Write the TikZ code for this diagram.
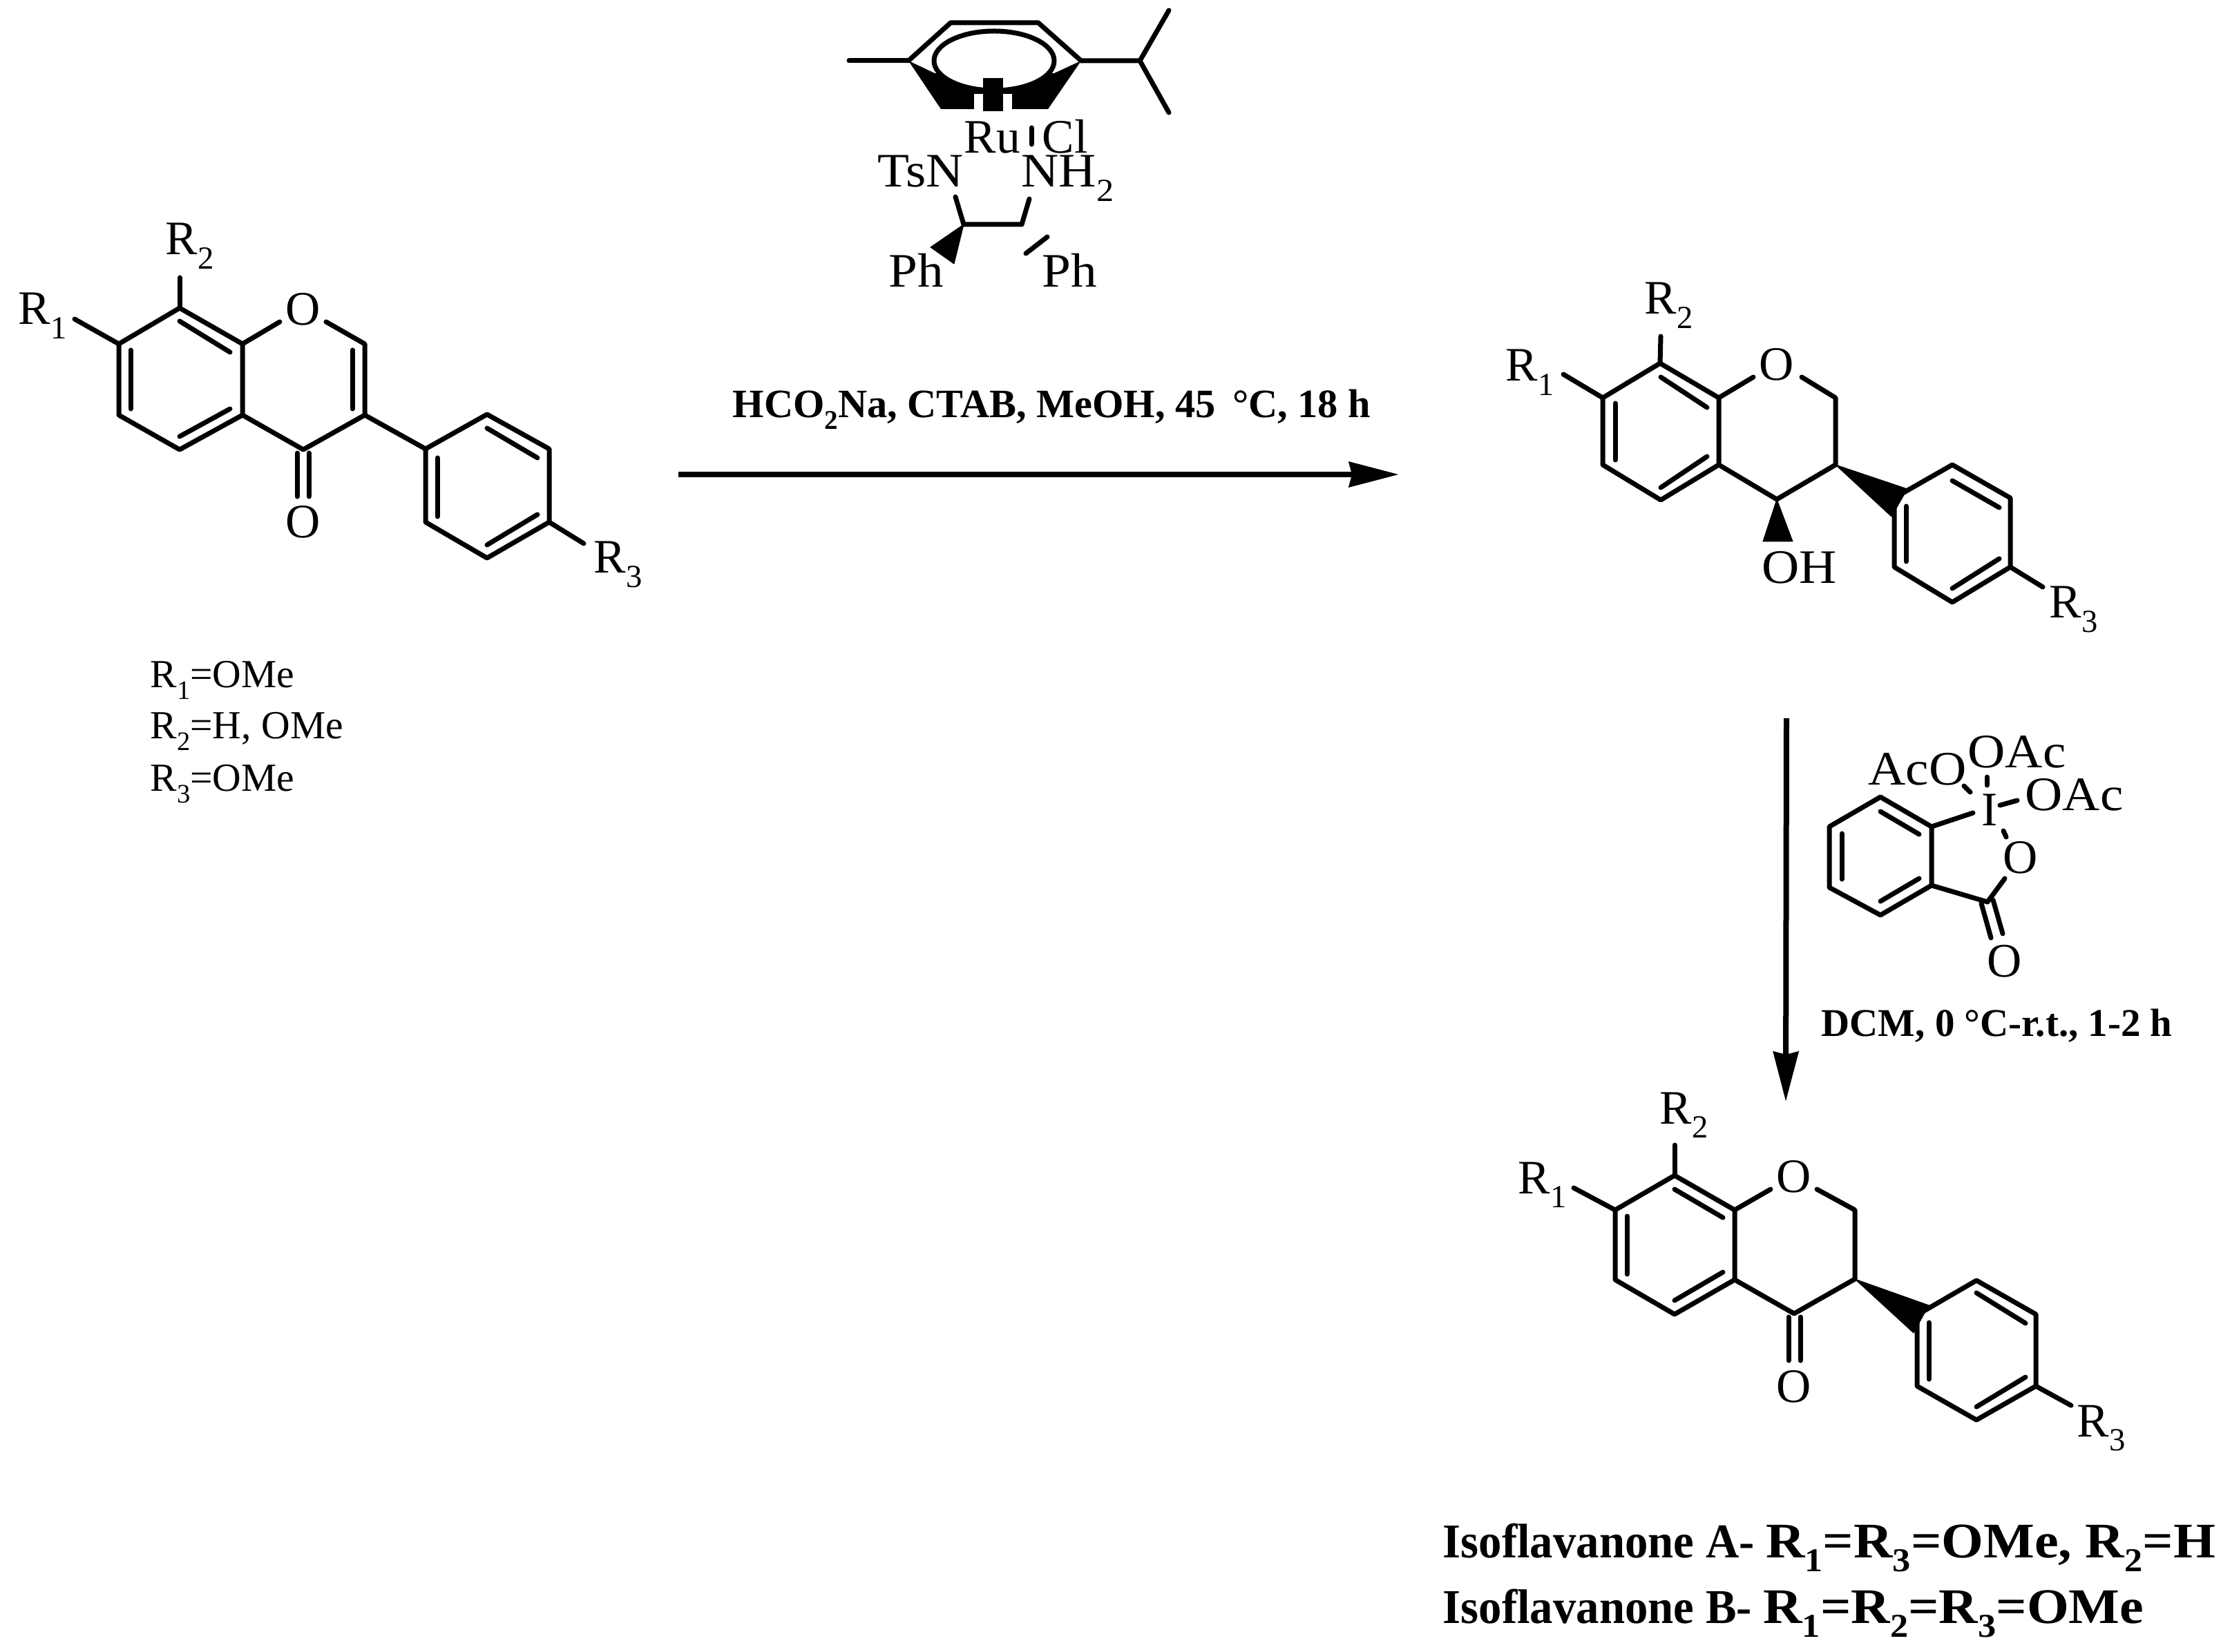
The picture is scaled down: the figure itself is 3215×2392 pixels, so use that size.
\documentclass[tikz,border=0pt]{standalone}
\usepackage{fontspec}
\setmainfont{Liberation Serif}
\newfontfamily\wideface[FakeStretch=1.08]{Liberation Serif}
\newfontfamily\headface[FakeStretch=0.95]{Liberation Serif}
\newfontfamily\formface[FakeStretch=1.085]{Liberation Serif}
\usetikzlibrary{arrows.meta}
\newcommand{\lowsub}[1]{\raisebox{-0.29em}{\scalebox{0.67}{#1}}}
\tikzset{
	bond/.style={line width=0.7mm, line cap=round, line join=round},
	wedge/.style={fill=black, draw=black, line width=0.1mm, line join=round},
	atom/.style={font=\fontsize{19.8pt}{22pt}\selectfont, inner sep=0pt, anchor=base west},
	atomw/.style={font=\wideface\fontsize{19.8pt}{22pt}\selectfont, inner sep=0pt, anchor=base west},
	atomc/.style={font=\fontsize{19.8pt}{22pt}\selectfont, inner sep=0pt, anchor=center},
	note/.style={font=\fontsize{16.4pt}{18pt}\selectfont, inner sep=0pt, anchor=base west},
	cond/.style={font=\bfseries, inner sep=0pt, anchor=base west},
	title/.style={font=\bfseries, inner sep=0pt, anchor=base west},
	reaction/.style={line width=0.8mm, -{Stealth[length=7.2mm, width=3.6mm, inset=0.4mm]}}
}
\begin{document}
\begin{tikzpicture}[x=0.1mm, y=-0.1mm]
	\useasboundingbox (0, 0) rectangle (3215, 2392);
	
	%%%%% isoflavone %%%%%
	\coordinate (a8) at (260, 446); \coordinate (a7) at (172, 498); \coordinate (a6) at (172, 601);
	\coordinate (a5) at (260, 651); \coordinate (a4a) at (351, 601); \coordinate (a8a) at (351, 498);
	\coordinate (a2) at (528, 498); \coordinate (a3) at (528, 601); \coordinate (a4) at (439, 651);
	\coordinate (aoa) at (405, 466); \coordinate (aob) at (472, 466);
	\coordinate (ar1) at (108, 462); \coordinate (ar2) at (260, 402); \coordinate (ar3) at (845, 787);
	\coordinate (ap1) at (616, 650); \coordinate (ap2) at (705, 600); \coordinate (ap3) at (795, 650);
	\coordinate (ap4) at (795, 756); \coordinate (ap5) at (705, 808); \coordinate (ap6) at (616, 756);
	\draw[bond] (a8) -- (a7) -- (a6) -- (a5) -- (a4a) -- (a8a) -- cycle;
	\draw[bond] (aoa) -- (a8a);
	\draw[bond] (aob) -- (a2) -- (a3) -- (a4) -- (a4a);
	\draw[bond] (ap1) -- (ap2) -- (ap3) -- (ap4) -- (ap5) -- (ap6) -- cycle;
	\draw[bond] (a3) -- (ap1);
	\draw[bond] (a7) -- (ar1);
	\draw[bond] (a8) -- (ar2);
	\draw[bond] (ap4) -- (ar3);
	\draw[bond] (260, 465) -- (333, 510);
	\draw[bond] (189, 507) -- (189, 592);
	\draw[bond] (260, 632) -- (333, 592);
	\draw[bond] (510, 507) -- (510, 592);
	\draw[bond] (430, 656) -- (430, 719);
	\draw[bond] (447, 656) -- (447, 719);
	\draw[bond] (705, 620) -- (778, 663);
	\draw[bond] (633, 663) -- (633, 748);
	\draw[bond] (705, 789) -- (778, 745);
	\node[atomc] (aring) at (439, 448) {O};
	\node[atomc] (aketo) at (439, 756) {O};
	\node[atom] (alabr1) at (26, 470) {R\lowsub{1}};
	\node[atom] (alabr2) at (239, 369) {R\lowsub{2}};
	\node[atom] (alabr3) at (859, 830) {R\lowsub{3}};
	
	\node[note] (subst1) at (217, 996) {R\lowsub{1}=OMe};
	\node[note] (subst2) at (217, 1070) {R\lowsub{2}=H, OMe};
	\node[note] (subst3) at (217, 1146) {R\lowsub{3}=OMe};
	
	%%%%% ruthenium catalyst %%%%%
	\coordinate (ru1) at (1315, 88); \coordinate (ru2) at (1376, 33); \coordinate (ru3) at (1503, 33);
	\coordinate (ru4) at (1565, 88); \coordinate (ru5) at (1517, 158); \coordinate (ru6) at (1362, 158);
	\coordinate (rume) at (1229, 88); \coordinate (ruip) at (1650, 88);
	\coordinate (ruipa) at (1692, 15); \coordinate (ruipb) at (1692, 163);
	\coordinate (rux) at (1439, 88);
	\fill (ru1) -- (ru6) -- (ru5) -- (ru4) -- (1526, 106) -- (1353, 106) -- cycle;
	\draw[bond] (ru1) -- (ru2) -- (ru3) -- (ru4);
	\draw[bond, fill=white] (rux) ellipse (87 and 43);
	\fill[white] (1410, 136) rectangle (1423, 160);
	\fill[white] (1452, 136) rectangle (1465, 160);
	\fill (1423, 113) rectangle (1452, 161);
	\draw[bond] (rume) -- (ru1);
	\draw[bond] (ru4) -- (ruip) -- (ruipa);
	\draw[bond] (ruip) -- (ruipb);
	\draw[bond] (1493, 185) -- (1493, 209);
	\node[atom] (rulab) at (1395, 222) {Ru};
	\node[atom] (cllab) at (1508, 222) {Cl};
	\node[atomw] (tsn) at (1270, 271) {TsN};
	\node[atomw] (nh2) at (1478, 271) {NH\lowsub{2}};
	\coordinate (rua) at (1383, 285); \coordinate (rub) at (1395, 325);
	\coordinate (ruc) at (1479, 325); \coordinate (rud) at (1490, 288);
	\draw[bond] (rua) -- (rub) -- (ruc) -- (rud);
	\draw[wedge] (rub) -- (1347, 358) -- (1381, 382) -- cycle;
	\draw[bond] (1485, 367) -- (1516, 343);
	\node[atomw] (pha) at (1286, 416) {Ph};
	\node[atomw] (phb) at (1508, 416) {Ph};
	
	%%%%% first step %%%%%
	\coordinate (arra) at (982, 687); \coordinate (arrb) at (2025, 687);
	\draw[reaction] (arra) -- (arrb);
	\node[cond, font=\bfseries\fontsize{16.6pt}{18pt}\selectfont] (condone) at (1060, 605) {HCO\lowsub{2}Na, CTAB, MeOH, 45\,\ \textdegree C, 18 h};
	
	%%%%% isoflavanol %%%%%
	\coordinate (b8) at (2403, 526); \coordinate (b7) at (2320, 576); \coordinate (b6) at (2320, 673);
	\coordinate (b5) at (2404, 724); \coordinate (b4a) at (2488, 673); \coordinate (b8a) at (2488, 576);
	\coordinate (b2) at (2657, 576); \coordinate (b3) at (2657, 673); \coordinate (b4) at (2572, 723);
	\coordinate (boa) at (2538, 546); \coordinate (bob) at (2608, 546);
	\coordinate (br1) at (2263, 542); \coordinate (br2) at (2404, 487); \coordinate (br3) at (2957, 850);
	\coordinate (bp1) at (2742, 721); \coordinate (bp2) at (2826, 673); \coordinate (bp3) at (2910, 721);
	\coordinate (bp4) at (2910, 821); \coordinate (bp5) at (2826, 872); \coordinate (bp6) at (2742, 821);
	\draw[bond] (b8) -- (b7) -- (b6) -- (b5) -- (b4a) -- (b8a) -- cycle;
	\draw[bond] (boa) -- (b8a);
	\draw[bond] (bob) -- (b2) -- (b3) -- (b4) -- (b4a);
	\draw[bond] (bp1) -- (bp2) -- (bp3) -- (bp4) -- (bp5) -- (bp6) -- cycle;
	\draw[bond] (b7) -- (br1);
	\draw[bond] (b8) -- (br2);
	\draw[bond] (bp4) -- (br3);
	\draw[wedge] (b4) -- (2552, 784) -- (2595, 784) -- cycle;
	\draw[wedge] (b3) -- (2761, 708) -- (2738, 748) -- cycle;
	\draw[bond] (2404, 546) -- (2471, 590);
	\draw[bond] (2338, 584) -- (2338, 666);
	\draw[bond] (2404, 706) -- (2471, 661);
	\draw[bond] (2826, 696) -- (2894, 735);
	\draw[bond] (2759, 733) -- (2759, 813);
	\draw[bond] (2826, 852) -- (2894, 809);
	\node[atomc] (bring) at (2572, 528) {O};
	\node[atomw] (boh) at (2550, 845) {OH};
	\node[atom] (blabr1) at (2179, 552) {R\lowsub{1}};
	\node[atom] (blabr2) at (2380, 455) {R\lowsub{2}};
	\node[atom] (blabr3) at (2966, 895) {R\lowsub{3}};
	
	%%%%% second step %%%%%
	\coordinate (arrc) at (2586, 1040); \coordinate (arrd) at (2585, 1595);
	\draw[reaction] (arrc) -- (arrd);
	
	\coordinate (ox1) at (2722, 1154); \coordinate (ox2) at (2796, 1197); \coordinate (ox3) at (2796, 1282);
	\coordinate (ox4) at (2722, 1325); \coordinate (ox5) at (2648, 1285); \coordinate (ox6) at (2648, 1197);
	\coordinate (oxi) at (2856, 1177); \coordinate (oxc) at (2877, 1306); \coordinate (oxo) at (2902, 1272);
	\draw[bond] (ox1) -- (ox2) -- (ox3) -- (ox4) -- (ox5) -- (ox6) -- cycle;
	\draw[bond] (ox2) -- (oxi);
	\draw[bond] (ox3) -- (oxc) -- (oxo);
	\draw[bond] (2868, 1308) -- (2882, 1358);
	\draw[bond] (2885, 1303) -- (2899, 1352);
	\draw[bond] (2722, 1175) -- (2778, 1208);
	\draw[bond] (2666, 1207) -- (2666, 1273);
	\draw[bond] (2722, 1305) -- (2778, 1272);
	\draw[bond] (2900, 1203) -- (2904, 1212);
	\draw[bond] (2895, 1166) -- (2920, 1159);
	\draw[bond] (2876, 1125) -- (2876, 1137);
	\draw[bond] (2843, 1138) -- (2852, 1147);
	\node[atom] (oxiod) at (2868, 1196) {I};
	\node[atomc] (oxring) at (2925, 1242) {O};
	\node[atomc] (oxketo) at (2902, 1392) {O};
	\node[atomw] (oacr) at (2931, 1174) {OAc};
	\node[atomw] (oact) at (2848, 1112) {OAc};
	\node[atomw] (aco) at (2704, 1137) {AcO};
	\node[cond, font=\bfseries\fontsize{16.2pt}{18pt}\selectfont] (condtwo) at (2636, 1501) {DCM, 0 \textdegree C-r.t., 1-2 h};
	
	%%%%% isoflavanone %%%%%
	\coordinate (c8) at (2424, 1702); \coordinate (c7) at (2338, 1752); \coordinate (c6) at (2338, 1853);
	\coordinate (c5) at (2424, 1903); \coordinate (c4a) at (2511, 1853); \coordinate (c8a) at (2511, 1752);
	\coordinate (c2) at (2685, 1752); \coordinate (c3) at (2685, 1852); \coordinate (c4) at (2597, 1902);
	\coordinate (coa) at (2563, 1722); \coordinate (cob) at (2630, 1722);
	\coordinate (cr1) at (2278, 1720); \coordinate (cr2) at (2424, 1658); \coordinate (cr3) at (2998, 2035);
	\coordinate (cp1) at (2775, 1904); \coordinate (cp2) at (2861, 1854); \coordinate (cp3) at (2947, 1903);
	\coordinate (cp4) at (2947, 2007); \coordinate (cp5) at (2861, 2056); \coordinate (cp6) at (2775, 2007);
	\draw[bond] (c8) -- (c7) -- (c6) -- (c5) -- (c4a) -- (c8a) -- cycle;
	\draw[bond] (coa) -- (c8a);
	\draw[bond] (cob) -- (c2) -- (c3) -- (c4) -- (c4a);
	\draw[bond] (cp1) -- (cp2) -- (cp3) -- (cp4) -- (cp5) -- (cp6) -- cycle;
	\draw[bond] (c7) -- (cr1);
	\draw[bond] (c8) -- (cr2);
	\draw[bond] (cp4) -- (cr3);
	\draw[wedge] (c3) -- (2792, 1890) -- (2770, 1930) -- cycle;
	\draw[bond] (2589, 1907) -- (2589, 1970);
	\draw[bond] (2606, 1907) -- (2606, 1970);
	\draw[bond] (2424, 1722) -- (2494, 1763);
	\draw[bond] (2355, 1761) -- (2355, 1845);
	\draw[bond] (2424, 1883) -- (2494, 1842);
	\draw[bond] (2861, 1872) -- (2932, 1916);
	\draw[bond] (2792, 1915) -- (2792, 1997);
	\draw[bond] (2861, 2037) -- (2932, 1994);
	\node[atomc] (cring) at (2597, 1704) {O};
	\node[atomc] (cketo) at (2597, 2008) {O};
	\node[atom] (clabr1) at (2197, 1728) {R\lowsub{1}};
	\node[atom] (clabr2) at (2402, 1627) {R\lowsub{2}};
	\node[atom] (clabr3) at (3006, 2080) {R\lowsub{3}};
	
	\node[title] (isoa) at (2088, 2255) {\headface\fontsize{20pt}{24pt}\selectfont Isoflavanone A- \formface\fontsize{20.5pt}{24pt}\selectfont R\lowsub{1}=R\lowsub{3}=OMe, R\lowsub{2}=H};
	\node[title] (isob) at (2088, 2350) {\headface\fontsize{20pt}{24pt}\selectfont Isoflavanone B- \formface\fontsize{20.5pt}{24pt}\selectfont R\lowsub{1}=R\lowsub{2}=R\lowsub{3}=OMe};
\end{tikzpicture}
\end{document}
